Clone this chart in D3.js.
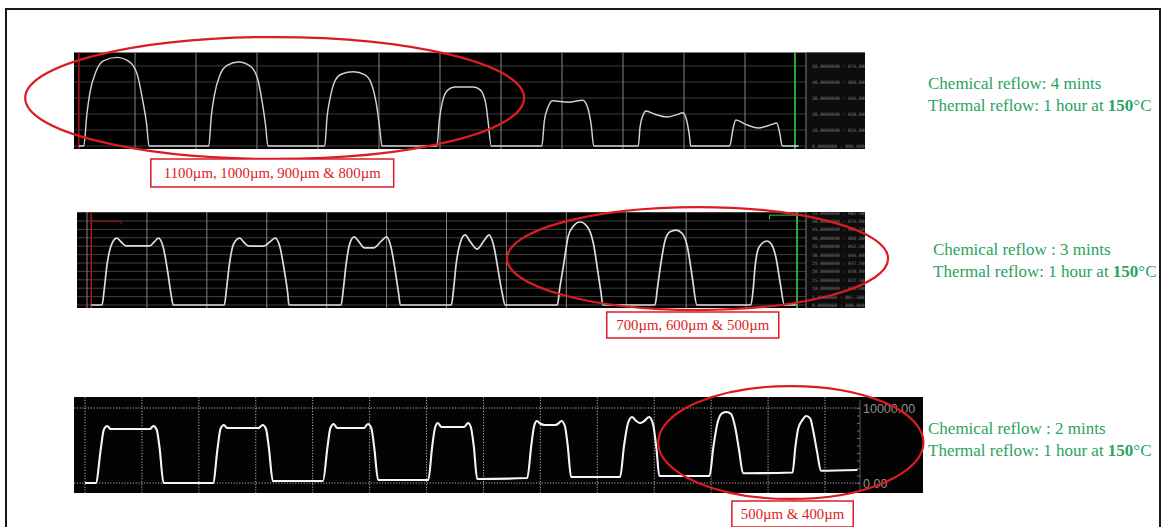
<!DOCTYPE html>
<html>
<head>
<meta charset="utf-8">
<script src="https://cdn.jsdelivr.net/npm/d3@7"></script>
<style>
  html, body { margin: 0; padding: 0; background: #fff; }
  svg { display: block; }
</style>
</head>
<body>
<svg id="chart" width="1166" height="527"></svg>
<script>
// ---- Surface profiles (scan position in mm, step height) ----
// Chemical reflow 4 min: height in µm
const profile4min = [
  [0.08, 0],
  [0.16, 0], [0.21, 19.4], [0.26, 33.2], [0.36, 46.5], [0.48, 53.2], [0.70, 55.4], [0.91, 52.6], [1.04, 44.3], [1.13, 27.7], [1.19, 13.9], [1.23, 0],
  [2.21, 0], [2.25, 18.4], [2.30, 31.5], [2.39, 44.1], [2.51, 50.4], [2.70, 52.5], [2.89, 49.9], [3.01, 42.0], [3.09, 26.3], [3.14, 13.1], [3.18, 0],
  [4.11, 0], [4.15, 18.6], [4.20, 30.2], [4.28, 40.8], [4.39, 45.0], [4.58, 46.4], [4.77, 44.5], [4.88, 38.5], [4.97, 23.2], [5.01, 11.6], [5.05, 0],
  [5.95, 0], [5.99, 16.6], [6.04, 27.7], [6.13, 35.1], [6.24, 36.9], [6.55, 36.9], [6.66, 35.1], [6.75, 26.6], [6.79, 14.8], [6.84, 0],
  [7.67, 0], [7.71, 15.6], [7.77, 24.1], [7.84, 28.3], [8.10, 27.4], [8.34, 28.6], [8.42, 24.0], [8.48, 12.7], [8.52, 0],
  [9.25, 0], [9.28, 12.0], [9.33, 19.5], [9.38, 21.9], [9.51, 20.0], [9.72, 18.1], [9.90, 19.8], [9.98, 20.8], [10.05, 15.0], [10.09, 6.0], [10.11, 0],
  [10.75, 0], [10.80, 10.0], [10.85, 16.3], [11.01, 13.5], [11.22, 11.3], [11.44, 13.5], [11.52, 14.4], [11.57, 8.0], [11.61, 0],
  [11.88, 0]
];

// Chemical reflow 3 min: height in µm
const profile3min = [
  [0.07, 0],
  [0.25, 0], [0.29, 10], [0.33, 22.8], [0.42, 36.9], [0.50, 39.8], [0.57, 37.5], [0.65, 35.2], [1.05, 35.2], [1.12, 37.5], [1.19, 39.8], [1.27, 34.7], [1.35, 19], [1.40, 7], [1.44, 0],
  [2.29, 0], [2.33, 10], [2.37, 22.5], [2.45, 36.5], [2.55, 39.8], [2.62, 37.3], [2.69, 35.2], [2.95, 35.0], [3.05, 37.5], [3.14, 39.8], [3.22, 34.5], [3.30, 19], [3.35, 7], [3.37, 0],
  [4.24, 0], [4.28, 10], [4.32, 23], [4.39, 37], [4.46, 40.5], [4.53, 38], [4.63, 34], [4.79, 34], [4.91, 38], [5.00, 40.5], [5.07, 35], [5.15, 19], [5.20, 7], [5.23, 0],
  [6.08, 0], [6.12, 10], [6.16, 24], [6.23, 37], [6.31, 41.7], [6.39, 38], [6.51, 33.3], [6.63, 38.5], [6.71, 41.7], [6.79, 35], [6.87, 19], [6.93, 7], [6.98, 0],
  [7.85, 0], [7.89, 10], [7.95, 22.8], [8.03, 40.7], [8.11, 46.6], [8.23, 49.4], [8.35, 46.6], [8.45, 36.9], [8.53, 19], [8.58, 7], [8.61, 0],
  [9.48, 0], [9.52, 10], [9.57, 22.8], [9.65, 38.7], [9.73, 43.6], [9.83, 44.6], [9.93, 42.7], [10.02, 34.7], [10.10, 16.9], [10.18, 0],
  [11.08, 0], [11.12, 10], [11.15, 22.8], [11.22, 34.7], [11.35, 38.1], [11.42, 36.3], [11.50, 28], [11.57, 13], [11.64, 0],
  [11.83, 0]
];

// Chemical reflow 2 min: height in Å (axis 0.00 – 10000.00)
const profile2min = [
  [0.00, 0],
  [0.19, 0], [0.28, 4700], [0.33, 7100], [0.39, 7600], [0.45, 7200], [1.14, 7200], [1.20, 7600], [1.26, 7100], [1.31, 4700], [1.38, 0],
  [2.25, 0], [2.33, 4700], [2.38, 7200], [2.44, 7730], [2.50, 7330], [3.05, 7330], [3.12, 7730], [3.18, 7200], [3.23, 4700], [3.30, 270],
  [4.18, 270], [4.26, 4800], [4.31, 7300], [4.37, 7870], [4.43, 7330], [4.90, 7330], [4.97, 7870], [5.03, 7300], [5.08, 4800], [5.15, 400],
  [6.03, 400], [6.10, 4900], [6.15, 7400], [6.20, 8000], [6.26, 7470], [6.66, 7470], [6.73, 8000], [6.78, 7400], [6.83, 4900], [6.89, 530],
  [7.77, 670], [7.84, 5000], [7.89, 7600], [7.94, 8270], [8.00, 7900], [8.08, 7730], [8.26, 7730], [8.31, 7900], [8.37, 8270], [8.43, 7600], [8.48, 5000], [8.54, 800],
  [9.40, 800], [9.47, 5000], [9.54, 8000], [9.61, 8800], [9.68, 8300], [9.75, 8000], [9.83, 8300], [9.91, 8800], [9.98, 7800], [10.04, 4500], [10.09, 930],
  [10.97, 930], [11.04, 4840], [11.11, 7960], [11.19, 9290], [11.27, 9470], [11.35, 9200], [11.42, 7500], [11.49, 4400], [11.56, 1300],
  [12.43, 1400], [12.48, 4840], [12.53, 7290], [12.60, 8360], [12.67, 8930], [12.74, 8620], [12.79, 7070], [12.86, 4180], [12.93, 1640],
  [13.57, 1730]
];

// Conditions printed beside each scan
const chemicalLabels = ["Chemical reflow: 4 mints", "Chemical reflow : 3 mints", "Chemical reflow : 2 mints"];
const thermalPrefix = "Thermal reflow: 1 hour at ";
const thermalTemp = "150";
const thermalUnit = "°C";

// Circled feature sizes
const sizeLabels = ["1100µm, 1000µm, 900µm & 800µm", "700µm, 600µm & 500µm", "500µm & 400µm"];
// Ellipse extents in data units [x0, x1, y0, y1] and label box centre (mm)
const ellipseExtents = [
  [-0.80, 7.38, -8.1, 68.1],
  [7.01, 13.37, -3.0, 58.3],
  [10.07, 14.73, -2130, 12930]
];
const labelCentres = [3.25, 10.11, 12.43];

// Tick values
const ticks4min = [0, 10, 20, 30, 40, 50];
const ticks3min = [0, 5, 10, 15, 20, 25, 30, 35, 40, 45, 50, 55];
const ticks2min = [0, 10000];
const minorTicks2min = [0, 1000, 2000, 3000, 4000, 5000, 6000, 7000, 8000, 9000, 10000];

// ---- Layout ----
const panels = [
  { data: profile4min, box: [74, 52.5, 865, 149], strip: 806,
    xDomain: [0, 12], xRange: [74, 806], yDomain: [0, 60], yRange: [146, 50],
    stroke: "#d2d2d2", width: 1.45, textX: 928, textY: 89, labelTop: 159, labelH: 28, pad: 13 },
  { data: profile3min, box: [77, 212, 865, 308], strip: 806,
    xDomain: [0, 12], xRange: [87, 806], yDomain: [0, 55], yRange: [305, 212.6],
    stroke: "#dcdcdc", width: 1.7, textX: 933, textY: 255, labelTop: 312, labelH: 26, pad: 9.5 },
  { data: profile2min, box: [74, 397, 923, 493], axisX: 860,
    xDomain: [0, 13], xRange: [85, 825], yDomain: [0, 10000], yRange: [483, 408],
    stroke: "#f5f5f5", width: 2.1, textX: 928, textY: 434, labelTop: 501, labelH: 26, pad: 9 }
];

const svg = d3.select("#chart");
const serif = "'Times New Roman', 'Liberation Serif', serif";
const red = "#dc1c24";
const green = "#2aa360";

panels.forEach((p, i) => {
  const x = d3.scaleLinear().domain(p.xDomain).range(p.xRange);
  const y = d3.scaleLinear().domain(p.yDomain).range(p.yRange);
  const [bx0, by0, bx1, by1] = p.box;
  const g = svg.append("g");

  // scan background
  g.append("rect").attr("x", bx0).attr("y", by0).attr("width", bx1 - bx0).attr("height", by1 - by0)
    .attr("fill", i === 2 ? "#030303" : "#000");

  const clipId = "clip" + i;
  svg.append("clipPath").attr("id", clipId).append("rect")
    .attr("x", bx0).attr("y", by0).attr("width", bx1 - bx0).attr("height", by1 - by0);
  const inner = g.append("g").attr("clip-path", `url(#${clipId})`);

  if (i < 2) {
    // readout strip on the right
    inner.append("rect").attr("x", p.strip).attr("y", by0).attr("width", bx1 - p.strip).attr("height", by1 - by0)
      .attr("fill", "#0d0d0d");
    const yTicks = i === 0 ? ticks4min : ticks3min;
    // horizontal grid
    inner.selectAll(".hg").data(yTicks).join("line")
      .attr("x1", bx0).attr("x2", p.strip)
      .attr("y1", d => y(d)).attr("y2", d => y(d))
      .attr("stroke", i === 0 ? "#3a3a3a" : "#424242").attr("stroke-width", 1);
    // vertical grid
    const xTicks = d3.range(i === 0 ? 1 : 0, 12);
    inner.selectAll(".vg").data(xTicks).join("line")
      .attr("x1", d => x(d)).attr("x2", d => x(d))
      .attr("y1", by0).attr("y2", by1)
      .attr("stroke", "#858585").attr("stroke-width", 1);
    // strip divider
    inner.append("line").attr("x1", x(12)).attr("x2", x(12)).attr("y1", by0).attr("y2", by1)
      .attr("stroke", "#6a6a6a").attr("stroke-width", 1.2);
    // readout values
    const ax = d3.axisRight(y).tickValues(yTicks).tickSize(0).tickPadding(0)
      .tickFormat(d => d3.format(".7f")(d) + " : " + d3.format("07.3f")(d * 1.5));
    const axg = inner.append("g").attr("transform", `translate(${p.strip + 6},0)`).call(ax);
    axg.select(".domain").remove();
    axg.selectAll("text").attr("fill", "#7a7a7a").attr("font-size", 4.6).attr("font-family", "DejaVu Sans Mono, monospace");

    // cursor lines
    const redX = i === 0 ? 0.08 : 0.07;
    const greenX = i === 0 ? 11.82 : 11.85;
    inner.append("line").attr("x1", x(redX)).attr("x2", x(redX)).attr("y1", by0).attr("y2", by1)
      .attr("stroke", "#b0141c").attr("stroke-width", 1.5);
    inner.append("line").attr("x1", x(greenX)).attr("x2", x(greenX)).attr("y1", by0).attr("y2", by1)
      .attr("stroke", "#3ccf4e").attr("stroke-width", 1.6);
    if (i === 1) {
      inner.append("path")
        .attr("d", `M${x(redX)},${y(48)}V${y(50)}H${x(0.57)}V${y(48)}`)
        .attr("fill", "none").attr("stroke", "#a8141c").attr("stroke-width", 1);
      inner.append("path")
        .attr("d", `M${x(11.39)},${y(51)}V${y(53.5)}H${x(greenX)}V${y(51)}`)
        .attr("fill", "none").attr("stroke", "#3ccf4e").attr("stroke-width", 1);
    }
  } else {
    // dotted grid
    inner.selectAll(".vg").data(d3.range(0, 14)).join("line")
      .attr("x1", d => x(d)).attr("x2", d => x(d))
      .attr("y1", by0).attr("y2", by1)
      .attr("stroke", "#b4b4b4").attr("stroke-width", 1).attr("stroke-dasharray", "1.2,1.6");
    inner.selectAll(".hg").data(ticks2min).join("line")
      .attr("x1", bx0).attr("x2", p.axisX)
      .attr("y1", d => y(d)).attr("y2", d => y(d))
      .attr("stroke", "#b4b4b4").attr("stroke-width", 1).attr("stroke-dasharray", "1.2,1.6");
    // height axis
    inner.append("line").attr("x1", p.axisX).attr("x2", p.axisX).attr("y1", by0 + 3).attr("y2", by1 - 3)
      .attr("stroke", "#5a5a5a").attr("stroke-width", 1);
    const minor = d3.axisLeft(y).tickValues(minorTicks2min).tickSize(3).tickFormat("");
    const mg = inner.append("g").attr("transform", `translate(${p.axisX},0)`).call(minor);
    mg.select(".domain").remove();
    mg.selectAll("line").attr("stroke", "#6a6a6a");
    const major = d3.axisRight(y).tickValues(ticks2min).tickSize(0).tickPadding(3).tickFormat(d3.format(".2f"));
    const ag = inner.append("g").attr("transform", `translate(${p.axisX},0)`).call(major);
    ag.select(".domain").remove();
    ag.selectAll("text").attr("fill", "#8e8e8e").attr("font-size", 12.5)
      .attr("font-family", "'Liberation Sans', Arial, sans-serif");
  }

  // profile trace
  const line = d3.line().x(d => x(d[0])).y(d => y(d[1])).curve(d3.curveMonotoneX);
  inner.append("path").datum(p.data).attr("d", line)
    .attr("fill", "none").attr("stroke", p.stroke).attr("stroke-width", p.width)
    .attr("stroke-linejoin", "round");

  // circled region
  const [ex0, ex1, ey0, ey1] = ellipseExtents[i];
  g.append("ellipse")
    .attr("cx", (x(ex0) + x(ex1)) / 2).attr("cy", (y(ey0) + y(ey1)) / 2)
    .attr("rx", Math.abs(x(ex1) - x(ex0)) / 2).attr("ry", Math.abs(y(ey0) - y(ey1)) / 2)
    .attr("fill", "none").attr("stroke", red).attr("stroke-width", 2.2);

  // size label box
  const lg = g.append("g");
  const cx = x(labelCentres[i]);
  const t = lg.append("text").attr("x", cx).attr("y", p.labelTop + p.labelH / 2 + 5)
    .attr("text-anchor", "middle").attr("font-family", serif).attr("font-size", 14.8)
    .attr("fill", red).text(sizeLabels[i]);
  const tw = t.node().getComputedTextLength();
  lg.insert("rect", "text")
    .attr("x", cx - tw / 2 - p.pad).attr("y", p.labelTop)
    .attr("width", tw + 2 * p.pad).attr("height", p.labelH)
    .attr("fill", "#fff").attr("stroke", red).attr("stroke-width", 1.5);

  // process conditions
  const tg = svg.append("g").attr("font-family", serif).attr("font-size", 17).attr("fill", green);
  tg.append("text").attr("x", p.textX).attr("y", p.textY).text(chemicalLabels[i]);
  const t2 = tg.append("text").attr("x", p.textX).attr("y", p.textY + 21.5);
  t2.append("tspan").text(thermalPrefix);
  t2.append("tspan").attr("font-weight", "bold").text(thermalTemp);
  t2.append("tspan").text(thermalUnit);
});

// frame
svg.append("rect").attr("x", 6).attr("y", 9).attr("width", 1154).attr("height", 540)
  .attr("fill", "none").attr("stroke", "#1a1a1a").attr("stroke-width", 2);
</script>
</body>
</html>
